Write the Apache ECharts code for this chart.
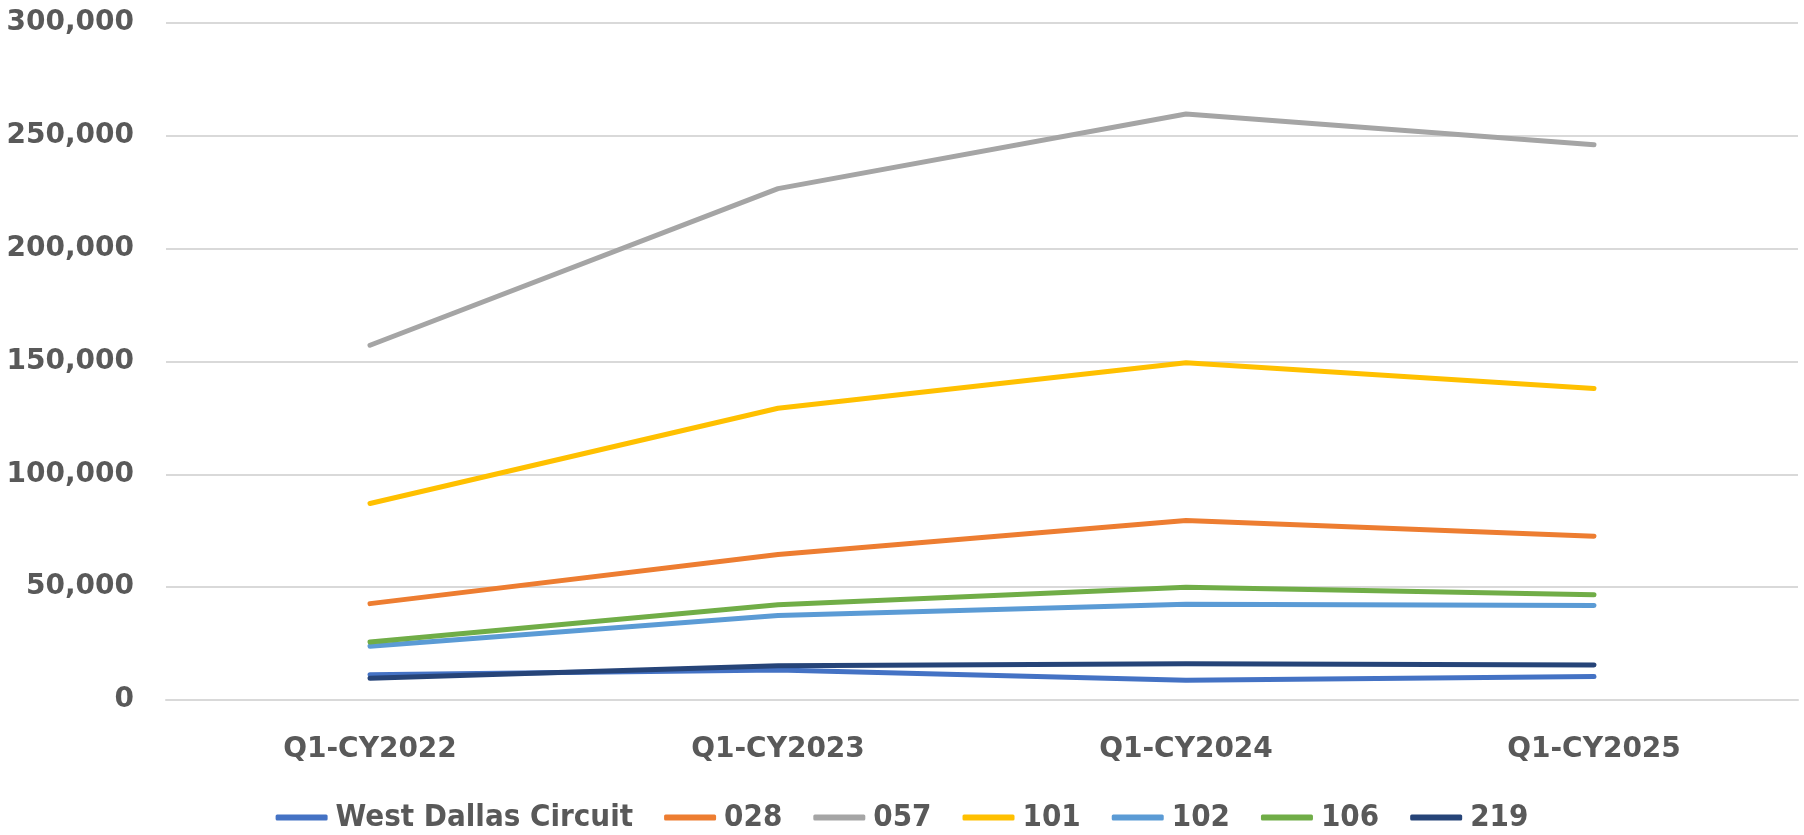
<!DOCTYPE html>
<html>
<head>
<meta charset="utf-8">
<style>
  html, body { margin: 0; padding: 0; background: #ffffff; }
  #chart { width: 1804px; height: 835px; }
</style>
<script src="https://cdn.jsdelivr.net/npm/echarts@6/dist/echarts.min.js"></script>
</head>
<body>
<div id="chart"></div>
<script>
// Quarterly counts by circuit
const categories = ['Q1-CY2022', 'Q1-CY2023', 'Q1-CY2024', 'Q1-CY2025'];

const westDallas = [11200, 13300, 8700, 10400];
const s028 = [42700, 64500, 79500, 72600];
const s057 = [157200, 226600, 259700, 246000];
const s101 = [87100, 129300, 149400, 138000];
const s102 = [23800, 37400, 42400, 41900];
const s106 = [25700, 42200, 50000, 46600];
const s219 = [9600, 15200, 16100, 15500];

const seriesDefs = [
  { name: 'West Dallas Circuit', data: westDallas, color: '#4472C4' },
  { name: '028', data: s028, color: '#ED7D31' },
  { name: '057', data: s057, color: '#A5A5A5' },
  { name: '101', data: s101, color: '#FFC000' },
  { name: '102', data: s102, color: '#5B9BD5' },
  { name: '106', data: s106, color: '#70AD47' },
  { name: '219', data: s219, color: '#264478' }
];

const chart = echarts.init(document.getElementById('chart'), null, { renderer: 'canvas' });

chart.setOption({
  animation: false,
  backgroundColor: '#ffffff',
  grid: { left: 166, right: 6, top: 23, bottom: 135, containLabel: false },
  legend: {
    top: 797,
    left: 'center',
    icon: 'roundRect',
    itemWidth: 52,
    itemHeight: 6,
    itemGap: 31,
    textStyle: {
      fontFamily: "'Liberation Sans Narrow', 'DejaVu Sans Condensed', sans-serif",
      fontWeight: 'bold',
      fontSize: 31,
      color: '#595959',
      padding: [0, 0, 0, 3]
    },
    data: seriesDefs.map(s => s.name)
  },
  xAxis: {
    type: 'category',
    data: categories,
    boundaryGap: true,
    axisLine: { show: true, lineStyle: { color: '#D9D9D9', width: 2 } },
    axisTick: { show: false },
    axisLabel: {
      margin: 36,
      fontFamily: "'DejaVu Sans', sans-serif",
      fontWeight: 'bold',
      fontSize: 28,
      color: '#595959'
    }
  },
  yAxis: {
    type: 'value',
    min: 0,
    max: 300000,
    interval: 50000,
    axisLine: { show: false },
    axisTick: { show: false },
    splitLine: { lineStyle: { color: '#D9D9D9', width: 2 } },
    axisLabel: {
      margin: 32,
      fontFamily: "'DejaVu Sans', sans-serif",
      fontWeight: 'bold',
      fontSize: 28,
      color: '#595959',
      formatter: v => v.toLocaleString('en-US')
    }
  },
  series: seriesDefs.map(s => ({
    name: s.name,
    type: 'line',
    data: s.data,
    symbol: 'none',
    color: s.color,
    lineStyle: { color: s.color, width: 5, cap: 'round', join: 'round' },
    itemStyle: { color: s.color }
  }))
});
</script>
</body>
</html>
